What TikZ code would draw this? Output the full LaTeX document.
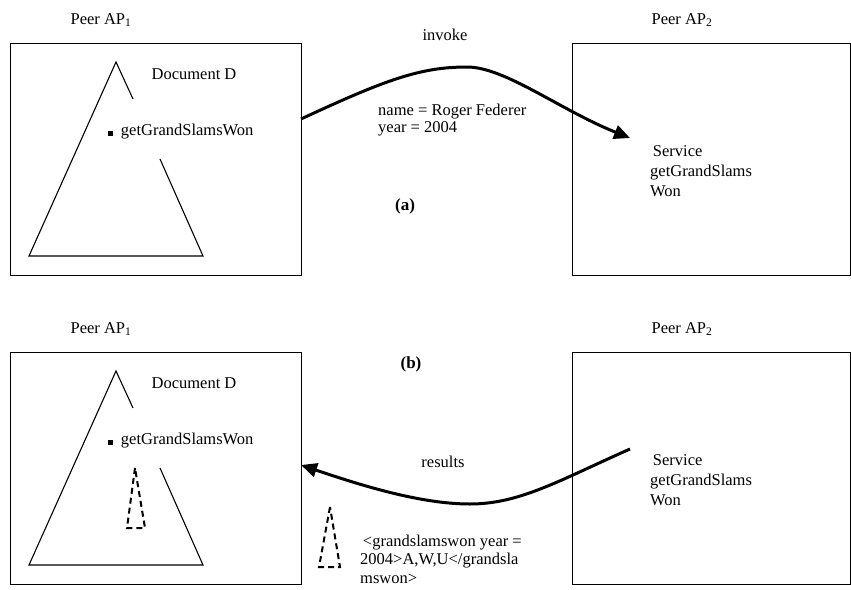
\documentclass[tikz,border=0pt]{standalone}
\usepackage{fontspec}
\setmainfont{Liberation Serif}
\usetikzlibrary{arrows.meta}
\begin{document}
\begin{tikzpicture}[x=1pt,y=-1pt,
  peer/.style={draw,line width=1.2pt,inner sep=0pt,anchor=north west},
  tree/.style={line width=1.1pt,line join=miter},
  subtree/.style={line width=2pt,dash pattern=on 6pt off 4pt},
  msg/.style={line width=3pt,-{Triangle[length=16pt,width=14pt]}},
  lbl/.style={font=\fontsize{16.5}{19}\selectfont,inner sep=0pt},
  caption/.style={font=\fontsize{17}{20}\selectfont\bfseries,inner sep=0pt},
]
\useasboundingbox (0,0) rectangle (851,589);

% ---------- (a) invocation ----------
\node[peer,minimum width=291pt,minimum height=232pt] (a1) at (10,43) {};
\node[peer,minimum width=278pt,minimum height=232pt] (a2) at (572,43) {};
\node[lbl] (a1name) at (101,20) {Peer AP\textsubscript{1}};
\node[lbl] (a2name) at (682,20) {Peer AP\textsubscript{2}};

\draw[tree] (133,99) -- (116,62) -- (29,256) -- (203,256) -- (160,159);
\node[lbl] (adoc) at (194,74) {Document D};
\node[lbl,anchor=west] (afun) at (108,132) {\rule{4.5pt}{4.5pt}\enspace getGrandSlamsWon};
\node[lbl,anchor=west,align=left,font=\fontsize{16.5}{20}\selectfont] (asvc) at (650,171)
  {\,Service\\getGrandSlams\\Won};

\coordinate (invokeStart) at (301,119);
\coordinate (invokeEnd) at (630,138);
\draw[msg] (invokeStart) .. controls (385,80) and (420,67) .. (467,67)
  .. controls (505,67) and (560,110) .. (invokeEnd);
\node[lbl] (invoke) at (445,35) {invoke};
\node[lbl,anchor=west,align=left,font=\fontsize{16.5}{17}\selectfont] (params) at (378,120)
  {name = Roger Federer\\year = 2004};
\node[caption] (atag) at (405,206) {(a)};

% ---------- (b) results ----------
\node[peer,minimum width=291pt,minimum height=232pt] (b1) at (10,352) {};
\node[peer,minimum width=278pt,minimum height=232pt] (b2) at (572,352) {};
\node[lbl] (b1name) at (101,329) {Peer AP\textsubscript{1}};
\node[lbl] (b2name) at (682,329) {Peer AP\textsubscript{2}};

\draw[tree] (133,408) -- (116,371) -- (29,565) -- (203,565) -- (160,468);
\draw[subtree] (135,468) -- (127,528) -- (145,528) -- cycle;
\node[lbl] (bdoc) at (194,383) {Document D};
\node[lbl,anchor=west] (bfun) at (108,441) {\rule{4.5pt}{4.5pt}\enspace getGrandSlamsWon};
\node[lbl,anchor=west,align=left,font=\fontsize{16.5}{20}\selectfont] (bsvc) at (650,480)
  {\,Service\\getGrandSlams\\Won};

\coordinate (resultStart) at (630,449);
\coordinate (resultEnd) at (301,465);
\draw[msg] (resultStart) .. controls (560,480) and (520,504) .. (470,504)
  .. controls (420,504) and (360,485) .. (resultEnd);
\node[lbl] (results) at (443,462) {results};
\node[caption] (btag) at (411,364) {(b)};

\draw[subtree] (330,507) -- (319,567) -- (340,567) -- cycle;
\node[lbl,anchor=west,align=left,font=\fontsize{16.5}{18.5}\selectfont] (xml) at (360,559)
  {\,<grandslamswon year =\\2004>A,W,U</grandsla\\mswon>};
\end{tikzpicture}
\end{document}
